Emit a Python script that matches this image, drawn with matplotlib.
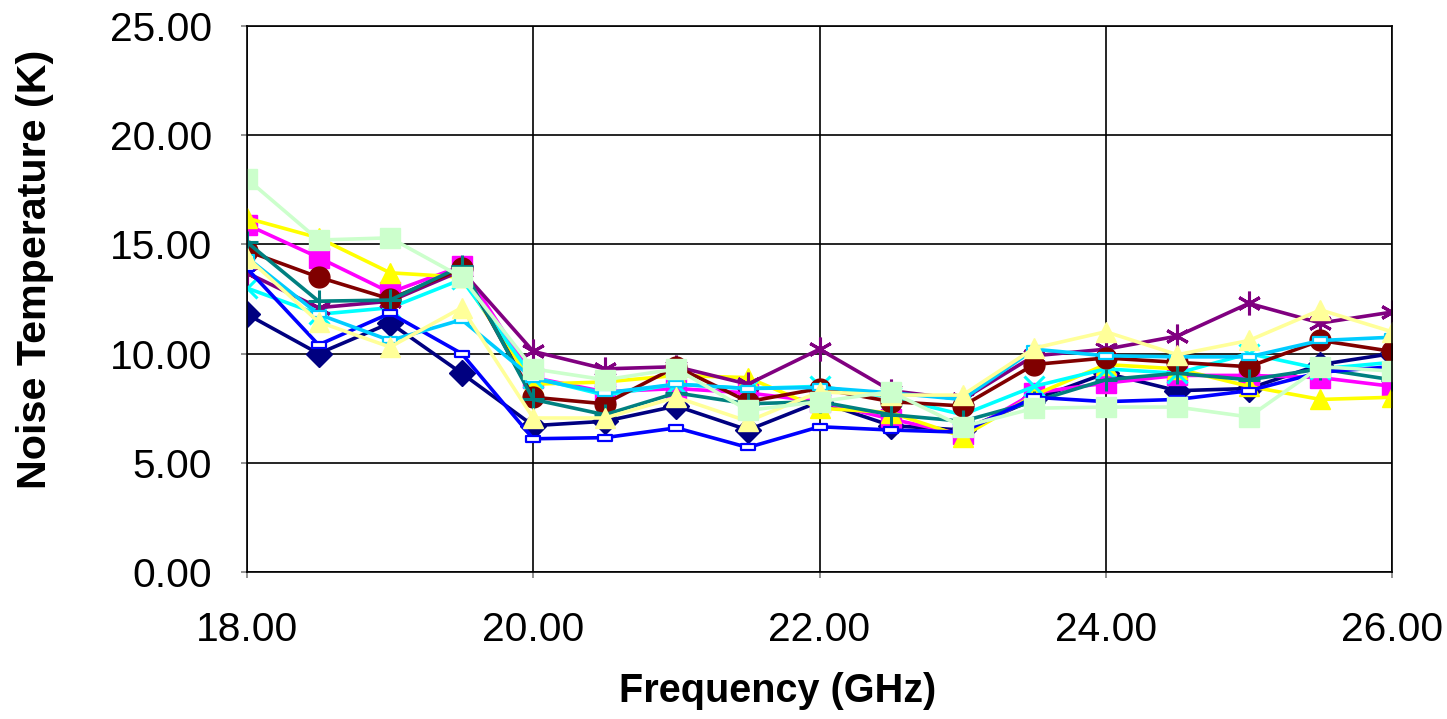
import matplotlib.pyplot as plt
from matplotlib.path import Path
from matplotlib.ticker import FormatStrFormatter, MultipleLocator

# frequency points, GHz
freq = [18.0, 18.5, 19.0, 19.5, 20.0, 20.5, 21.0, 21.5, 22.0,
        22.5, 23.0, 23.5, 24.0, 24.5, 25.0, 25.5, 26.0]

# noise temperature per unit, K
navy = [11.8, 10.0, 11.4, 9.1, 6.7, 6.9, 7.6, 6.5, 7.8, 6.7, 6.5, 7.9, 9.1, 8.3, 8.4, 9.5, 10.0]
magenta = [15.9, 14.4, 12.8, 14.0, 8.9, 8.25, 8.4, 8.2, 7.8, 7.0, 6.3, 8.2, 8.65, 9.0, 9.0, 8.9, 8.5]
yellow = [16.2, 15.3, 13.7, 13.5, 8.6, 8.7, 9.0, 8.9, 7.5, 7.3, 6.2, 8.1, 9.5, 9.3, 8.5, 7.9, 8.0]
cyan = [13.0, 11.8, 12.1, 13.4, 8.9, 8.1, 8.6, 8.4, 8.5, 8.0, 7.2, 8.5, 9.3, 9.1, 10.0, 9.3, 9.6]
purple = [13.7, 12.1, 12.4, 13.8, 10.1, 9.3, 9.4, 8.6, 10.2, 8.3, 7.9, 9.9, 10.2, 10.8, 12.3, 11.4, 11.9]
maroon = [14.7, 13.5, 12.5, 13.9, 8.0, 7.7, 9.4, 7.8, 8.4, 7.8, 7.6, 9.5, 9.8, 9.6, 9.4, 10.6, 10.1]
teal = [15.1, 12.4, 12.45, 14.0, 7.9, 7.2, 8.2, 7.7, 7.8, 7.2, 6.9, 7.8, 8.8, 9.1, 8.8, 9.3, 8.8]
blue = [13.9, 10.4, 11.85, 10.0, 6.1, 6.15, 6.6, 5.7, 6.65, 6.5, 6.4, 8.0, 7.8, 7.9, 8.3, 9.15, 9.4]
skyblue = [14.4, 11.8, 10.6, 11.55, 8.85, 8.2, 8.6, 8.4, 8.45, 8.2, 7.9, 10.2, 9.9, 9.85, 9.85, 10.6, 10.75]
lightyellow = [14.4, 11.45, 10.3, 12.1, 7.05, 7.05, 8.0, 6.9, 8.25, 8.1, 8.1, 10.25, 11.0, 9.95, 10.6, 12.0, 11.0]
lightgreen = [18.0, 15.2, 15.3, 13.5, 9.3, 8.8, 9.3, 7.4, 7.8, 8.25, 6.65, 7.5, 7.55, 7.55, 7.1, 9.4, 9.2]

# Excel-style short bar marker
dash = Path([(-1, -0.4), (1, -0.4), (1, 0.4), (-1, 0.4), (-1, -0.4)],
            [Path.MOVETO, Path.LINETO, Path.LINETO, Path.LINETO, Path.CLOSEPOLY])

series = [
    (navy, "#000080", "D", 13),
    (magenta, "#FF00FF", "s", 14),
    (yellow, "#FFFF00", "^", 15),
    (cyan, "#00FFFF", "x", 14),
    (purple, "#800080", (6, 2, 0), 17),
    (maroon, "#800000", "o", 15),
    (teal, "#008080", "+", 16),
    (blue, "#0000FF", dash, 10),
    (skyblue, "#00CCFF", dash, 10),
    (lightyellow, "#FFFF99", "^", 15),
    (lightgreen, "#CCFFCC", "s", 15),
]

plt.rcParams["font.family"] = ["Liberation Sans", "DejaVu Sans"]

fig = plt.figure(figsize=(14.47, 7.19), dpi=100)
ax = fig.add_axes([0.1707, 0.2045, 0.7913, 0.7593])

for vals, col, mk, ms in series:
    if mk in ("x", "+") or isinstance(mk, tuple):
        ax.plot(freq, vals, color=col, lw=2.6, marker=mk, markersize=ms,
                markeredgewidth=2.2, markeredgecolor=col)
    elif isinstance(mk, Path):
        ax.plot(freq, vals, color=col, lw=2.6, marker=mk, markersize=ms,
                markeredgewidth=1.6, markeredgecolor=col, markerfacecolor="white")
    else:
        ax.plot(freq, vals, color=col, lw=2.6, marker=mk, markersize=ms,
                markeredgecolor=col, markerfacecolor=col)

ax.set_xlim(18, 26)
ax.set_ylim(0, 25)
ax.xaxis.set_major_locator(MultipleLocator(2))
ax.yaxis.set_major_locator(MultipleLocator(5))
ax.xaxis.set_major_formatter(FormatStrFormatter("%.2f"))
ax.yaxis.set_major_formatter(FormatStrFormatter("%.2f"))

ax.grid(True, color="black", lw=1.2)
ax.set_axisbelow(True)
for s in ax.spines.values():
    s.set_color("black")
    s.set_linewidth(1.2)

ax.tick_params(axis="both", direction="out", length=4, width=1.2,
               color="gray", labelsize=29.3)
ax.tick_params(axis="y", pad=21)
ax.tick_params(axis="x", pad=24)

ax.set_xlabel("Frequency (GHz)", fontsize=28.5, fontweight="bold")
ax.set_ylabel("Noise Temperature (K)", fontsize=29.7, fontweight="bold")
ax.xaxis.set_label_coords(0.4638, -0.183)
ax.yaxis.set_label_coords(-0.1686, 0.555)

fig.savefig("out.png", dpi=100)
